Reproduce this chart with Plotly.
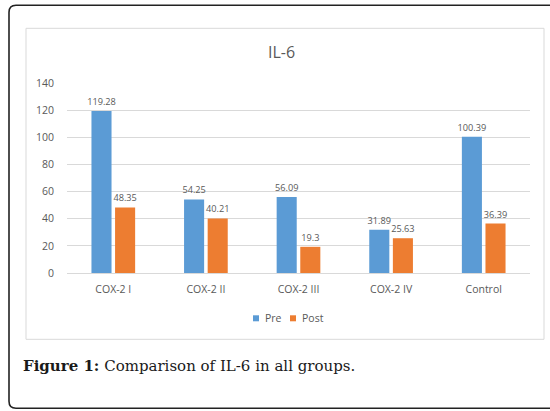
import plotly.graph_objects as go

categories = ["COX-2 I", "COX-2 II", "COX-2 III", "COX-2 IV", "Control"]
pre_values = [119.28, 54.25, 56.09, 31.89, 100.39]
post_values = [48.35, 40.21, 19.3, 25.63, 36.39]
pre_labels = ["119.28", "54.25", "56.09", "31.89", "100.39"]
post_labels = ["48.35", "40.21", "19.3", "25.63", "36.39"]
y_ticks = [0, 20, 40, 60, 80, 100, 120, 140]
series_names = ["Pre", "Post"]
series_colors = ["#5B9BD5", "#ED7D31"]

W, H = 550, 411
L, R = 67, 530
Y0, Y140 = 272.7, 82.7
PW, PH = R - L, Y0 - Y140

def px(x):
    return (x - L) / PW

def py(y):
    return (Y0 - y) / PH

gray = "#595959"
chart_font = "Open Sans"

fig = go.Figure()
for name, vals, labels, color in [(series_names[0], pre_values, pre_labels, series_colors[0]),
                                  (series_names[1], post_values, post_labels, series_colors[1])]:
    fig.add_trace(go.Bar(
        x=categories, y=vals, name=name, marker=dict(color=color, line=dict(width=0)),
        text=labels, textposition="outside", cliponaxis=False, constraintext="none",
        textfont=dict(family=chart_font, size=9.2, color=gray), showlegend=False,
    ))

# outer rounded frame
r = 7
x0, x1, y0, y1 = 9, 560, 5, 408
def P(x, y):
    return f"{px(x)},{py(y)}"
path = (f"M {P(x1, y0)} L {P(x0 + r, y0)} Q {P(x0, y0)} {P(x0, y0 + r)} "
        f"L {P(x0, y1 - r)} Q {P(x0, y1)} {P(x0 + r, y1)} L {P(x1, y1)}")

shapes = [
    dict(type="path", xref="paper", yref="paper", path=path,
         line=dict(color="#222222", width=1.6), layer="above"),
    dict(type="rect", xref="paper", yref="paper", x0=px(26), x1=px(544), y0=py(28), y1=py(339),
         line=dict(color="#d9d9d9", width=1), layer="below"),
]

annotations = [
    dict(text="IL-6", xref="paper", yref="paper", x=px(281), y=py(52), showarrow=False,
         xanchor="center", yanchor="middle", font=dict(family=chart_font, size=16, color=gray)),
    dict(text="<b>Figure 1:</b> Comparison of IL-6 in all groups.", xref="paper", yref="paper",
         x=px(21), y=py(366), showarrow=False, xanchor="left", yanchor="middle",
         font=dict(family="DejaVu Serif", size=15, color="#1a1a1a")),
]

# legend (custom, small squares like the reference)
legend_items = [(253, 263), (290, 300)]
for (sq_x, tx_x), name, color in zip(legend_items, series_names, series_colors):
    shapes.append(dict(type="rect", xref="paper", yref="paper", x0=px(sq_x), x1=px(sq_x + 6),
                       y0=py(321), y1=py(315), fillcolor=color, line=dict(width=0)))
    annotations.append(dict(text=name, xref="paper", yref="paper", x=px(tx_x), y=py(318),
                            showarrow=False, xanchor="left", yanchor="middle",
                            font=dict(family=chart_font, size=10.5, color=gray)))

fig.update_layout(
    width=W, height=H,
    margin=dict(l=L, r=W - R, t=Y140, b=H - Y0, pad=0),
    paper_bgcolor="white", plot_bgcolor="white",
    barmode="group", bargap=0.49, bargroupgap=0.15,
    showlegend=False,
    xaxis=dict(showgrid=False, showline=False, ticks="", tickfont=dict(family=chart_font, size=10.5, color=gray),
               ticklabelstandoff=8),
    yaxis=dict(range=[0, 140], tickvals=y_ticks, showgrid=True, gridcolor="#d9d9d9", gridwidth=1,
               zeroline=True, zerolinecolor="#d9d9d9", zerolinewidth=1, showline=False, ticks="",
               tickfont=dict(family=chart_font, size=10.5, color=gray), ticklabelstandoff=12),
    shapes=shapes, annotations=annotations,
    font=dict(family=chart_font, color=gray),
)

fig.write_html("out.html", config={"displayModeBar": False},
               post_script="document.body.style.margin='0px';document.body.style.overflow='hidden';")
